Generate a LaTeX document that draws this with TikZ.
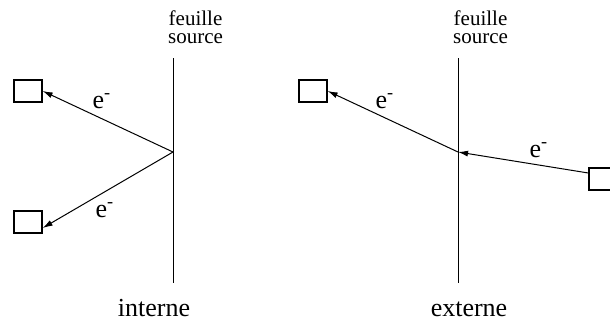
\documentclass[tikz,border=0pt]{standalone}
\usepackage{fontspec}
\setmainfont{Liberation Serif}
\usetikzlibrary{arrows.meta, calc}

\begin{document}
\begin{tikzpicture}[x=0.4pt, y=-0.4pt, >={Latex[length=4pt, width=2.4pt]},
    detector/.style={draw, line width=0.5pt, minimum width=11.2pt, minimum height=8.8pt, inner sep=0pt},
    elabel/.style={font=\fontsize{10.4}{12}\selectfont, anchor=base, inner sep=0pt},
    foillabel/.style={font=\fontsize{8.4}{7.3}\selectfont, align=center, anchor=north, inner sep=0pt}]
    \useasboundingbox (0,0) rectangle (610,321);

    % interne
    \coordinate (foilLtop) at (173,58);
    \coordinate (foilLbot) at (173,283);
    \coordinate (hitL) at (173,152);
    \draw (foilLtop) -- (foilLbot);
    \node[foillabel] (foilLname) at (195.5,10) {feuille\\source};

    \node[detector] (boxA) at (28,91) {};
    \node[detector] (boxB) at (28,222) {};

    \draw[->] (hitL) -- (boxA.east);
    \draw[->] (hitL) -- ($(boxB.east)+(0,6)$);

    \node[elabel] (eA) at (102,108) {e\textsuperscript{-}};
    \node[elabel] (eB) at (105,217) {e\textsuperscript{-}};
    \node[elabel] (interne) at (154,316) {interne};

    % externe
    \coordinate (foilRtop) at (458,58);
    \coordinate (foilRbot) at (458,283);
    \coordinate (hitR) at (458,152);
    \draw (foilRtop) -- (foilRbot);
    \node[foillabel] (foilRname) at (480.5,10) {feuille\\source};

    \node[detector] (boxC) at (313,91) {};
    \node[detector] (boxD) at (603,179) {};

    \draw[->] (hitR) -- (boxC.east);
    \draw[->] ($(boxD.west)+(0,-6)$) -- (hitR);

    \node[elabel] (eC) at (385,108) {e\textsuperscript{-}};
    \node[elabel] (eD) at (539,157) {e\textsuperscript{-}};
    \node[elabel] (externe) at (469,316) {externe};
\end{tikzpicture}
\end{document}
